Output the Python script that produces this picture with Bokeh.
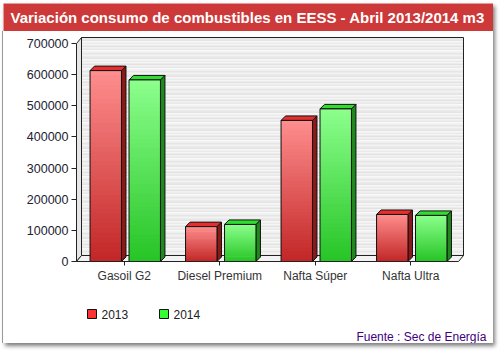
from bokeh.plotting import figure
from bokeh.layouts import column
from bokeh.models import (FixedTicker, BasicTickFormatter, Range1d)
from bokeh.core.properties import value
from bokeh.embed import file_html
from bokeh.resources import INLINE

# ---------------- data ----------------
categories = ["Gasoil G2", "Diesel Premium", "Nafta Súper", "Nafta Ultra"]
series_names = ["2013", "2014"]
values_2013 = [613000, 112000, 453000, 151000]
values_2014 = [583000, 119000, 490000, 148000]
y_ticks = [0, 100000, 200000, 300000, 400000, 500000, 600000, 700000]
title_text = "Variación consumo de combustibles en EESS - Abril 2013/2014 m3"
source_text = "Fuente : Sec de Energía"

# ---------------- layout (pixels) ----------------
CARD_W = 490
BANNER_H = 28
MAIN_H = 259
FOOT_H = 53
FL, FR, FT, FB = 73, 461, 5, 230       # frame edges inside main figure
CAT_PX = 95.5
Y_MAX = y_ticks[-1]
PX_PER_VAL = 218.0 / Y_MAX
x_end = (FR - FL) / CAT_PX
y_end = (FB - FT) / PX_PER_VAL
FONT = "Liberation Sans"

def px_x(px):
    return px / CAT_PX

def px_y(px):
    return px / PX_PER_VAL

WALL_DX, WALL_DY = px_x(5), px_y(6)
BAR_DX, BAR_DY = px_x(4.5), px_y(4.5)
n_cat = len(categories)

# ---------------- banner ----------------
banner = figure(width=CARD_W, height=BANNER_H, output_backend="svg", toolbar_location=None,
                x_range=Range1d(0, CARD_W), y_range=Range1d(BANNER_H, 0),
                min_border_left=0, min_border_right=0, min_border_top=0, min_border_bottom=0,
                background_fill_color="#cd3838", border_fill_color="#cd3838")
banner.axis.visible = False
banner.grid.visible = False
banner.outline_line_color = None
banner.text(x=[7], y=[14], text=[title_text], text_font=value(FONT), text_font_style="bold",
            text_font_size="15px", text_color="white", text_baseline="middle", text_align="left")

# ---------------- main chart ----------------
p = figure(width=CARD_W, height=MAIN_H, output_backend="svg", toolbar_location=None,
           x_range=Range1d(0, x_end), y_range=Range1d(0, y_end),
           min_border_left=FL, min_border_right=CARD_W - FR,
           min_border_top=FT, min_border_bottom=MAIN_H - FB,
           background_fill_color="white", border_fill_color="white")
p.outline_line_color = None
p.grid.visible = False

shades = ["#ebebeb", "#f3f3f3", "#e6e6e6", "#efefef", "#f8f8f8", "#e8e8e8",
          "#f1f1f1", "#e2e2e2", "#f5f5f5", "#eaeaea", "#f7f7f7", "#e4e4e4"]
band = px_y(1.5)
bl, br, bb, bt, bc = [], [], [], [], []
yy = WALL_DY
k = 0
while yy < Y_MAX + WALL_DY:
    bl.append(WALL_DX); br.append(n_cat + WALL_DX)
    bb.append(yy); bt.append(min(yy + band * 1.5, Y_MAX + WALL_DY))
    bc.append(shades[k % len(shades)])
    yy += band
    k += 1
p.quad(left=bl, right=br, bottom=bb, top=bt, fill_color=bc, line_color=None)
p.quad(left=[WALL_DX], right=[n_cat + WALL_DX], bottom=[WALL_DY], top=[Y_MAX + WALL_DY],
       fill_color=None, line_color="#222222", line_width=1)
p.patch([0, WALL_DX, WALL_DX, 0], [0, WALL_DY, Y_MAX + WALL_DY, Y_MAX],
        fill_color="#e6e6e6", line_color="#222222", line_width=1)
p.patch([0, n_cat, n_cat + WALL_DX, WALL_DX], [0, 0, WALL_DY, WALL_DY],
        fill_color="#f2f2f2", line_color="#222222", line_width=1)

def hex2rgb(h):
    h = h.lstrip("#")
    return tuple(int(h[i:i + 2], 16) for i in (0, 2, 4))

def mix(c1, c2, t):
    a, b = hex2rgb(c1), hex2rgb(c2)
    return "#%02x%02x%02x" % tuple(int(round(a[i] + (b[i] - a[i]) * t)) for i in range(3))

series = [
    dict(vals=values_2013, off=0.142, top="#ff8e8e", bot="#c22626",
         side="#8c1818", cap="#e52e2e", legend="#ff3333"),
    dict(vals=values_2014, off=0.550, top="#8cff8c", bot="#26c426",
         side="#1e8a1e", cap="#30dc30", legend="#33ff33"),
]
BAR_W = 0.329
N = 40
for s in series:
    gl, gr, gb, gt, gc = [], [], [], [], []
    fl, fr, fb, ft = [], [], [], []
    side_xs, side_ys, cap_xs, cap_ys = [], [], [], []
    for i, v in enumerate(s["vals"]):
        x0 = i + s["off"]
        x1 = x0 + BAR_W
        for j in range(N):
            gl.append(x0); gr.append(x1)
            gb.append(v * j / N); gt.append(min(v, v * (j + 1.8) / N))
            gc.append(mix(s["bot"], s["top"], (j + 0.5) / N))
        fl.append(x0); fr.append(x1); fb.append(0); ft.append(v)
        side_xs.append([x1, x1 + BAR_DX, x1 + BAR_DX, x1])
        side_ys.append([0, BAR_DY, v + BAR_DY, v])
        cap_xs.append([x0, x0 + BAR_DX, x1 + BAR_DX, x1])
        cap_ys.append([v, v + BAR_DY, v + BAR_DY, v])
    p.patches(side_xs, side_ys, fill_color=s["side"], line_color="#111111", line_width=1)
    p.patches(cap_xs, cap_ys, fill_color=s["cap"], line_color="#111111", line_width=1)
    p.quad(left=gl, right=gr, bottom=gb, top=gt, fill_color=gc, line_color=None)
    p.quad(left=fl, right=fr, bottom=fb, top=ft, fill_color=None,
           line_color="#111111", line_width=1)

yax = p.yaxis[0]
yax.ticker = FixedTicker(ticks=y_ticks)
yax.formatter = BasicTickFormatter(use_scientific=False)
yax.bounds = (0, Y_MAX)
yax.minor_tick_line_color = None
yax.major_tick_in = 0
yax.major_tick_out = 5
yax.major_label_standoff = 3
yax.axis_line_color = "#222222"
yax.major_tick_line_color = "#222222"
yax.major_label_text_font = FONT
yax.major_label_text_font_size = "12.5px"
yax.major_label_text_color = "#222233"

xax = p.xaxis[0]
xax.ticker = FixedTicker(ticks=[i + 0.5 for i in range(n_cat)])
xax.major_label_overrides = {i + 0.5: c for i, c in enumerate(categories)}
xax.bounds = (0, n_cat)
xax.minor_tick_line_color = None
xax.major_tick_in = 0
xax.major_tick_out = 4
xax.major_label_standoff = 3
xax.axis_line_color = "#222222"
xax.major_tick_line_color = "#222222"
xax.major_label_text_font = FONT
xax.major_label_text_font_size = "12px"
xax.major_label_text_color = "#333333"

# ---------------- footer (legend + source) ----------------
foot = figure(width=CARD_W, height=FOOT_H, output_backend="svg", toolbar_location=None,
              x_range=Range1d(0, CARD_W), y_range=Range1d(FOOT_H, 0),
              min_border_left=0, min_border_right=0, min_border_top=0, min_border_bottom=0,
              background_fill_color="white", border_fill_color="white")
foot.axis.visible = False
foot.grid.visible = False
foot.outline_line_color = None

LEG_X0, LEG_STEP, LEG_Y, SQ = 84, 72, 23.5, 9
leg_left = [LEG_X0 + i * LEG_STEP for i in range(len(series_names))]
foot.quad(left=leg_left, right=[x + SQ for x in leg_left],
          top=[LEG_Y - SQ / 2] * len(leg_left), bottom=[LEG_Y + SQ / 2] * len(leg_left),
          fill_color=[s["legend"] for s in series], line_color="#111111", line_width=1)
foot.text(x=[x + SQ + 5 for x in leg_left], y=[LEG_Y] * len(leg_left), text=series_names,
          text_font=value(FONT), text_font_size="12px", text_color="#222222",
          text_baseline="middle", text_align="left")
foot.text(x=[483], y=[46], text=[source_text], text_font=value(FONT), text_font_size="12px",
          text_color="#400080", text_baseline="middle", text_align="right")

lower = column(p, column(foot, spacing=0), spacing=0,
               styles={"box-shadow": "-1px 0px 0px 0px #999999"})
card = column(banner, lower, spacing=0, margin=(3, 0, 0, 3),
              styles={"box-shadow": "2px 3px 4px 0px rgba(0,0,0,0.5)"})

open("out.html", "w").write(file_html(card, INLINE))
